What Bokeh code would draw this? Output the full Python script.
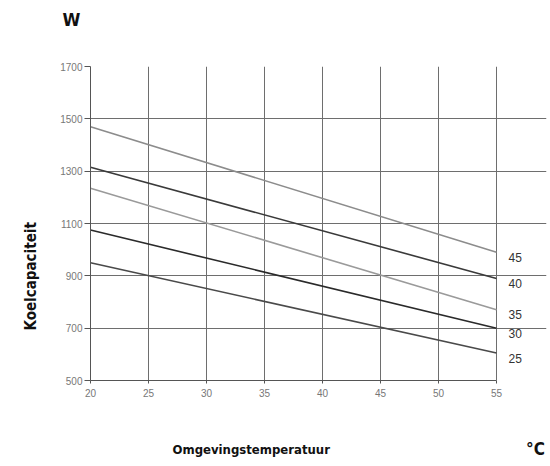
from bokeh.plotting import figure
from bokeh.models import Range1d, FixedTicker, ColumnDataSource, Title
from bokeh.layouts import column
from bokeh.core.properties import value
from bokeh.embed import file_html
from bokeh.resources import INLINE

# Data
x_start = [20, 20, 20, 20, 20]
x_end = [55, 55, 55, 55, 55]
series_names = ["45", "40", "35", "30", "25"]
start_vals = [1470, 1315, 1235, 1075, 950]
end_vals = [990, 890, 770, 700, 605]
series_colors = ["#8c8c8c", "#3a3a3a", "#9a9a9a", "#2a2a2a", "#4a4a4a"]
x_ticks = [20, 25, 30, 35, 40, 45, 50, 55]
y_ticks = [500, 700, 900, 1100, 1300, 1500, 1700]
y_title = "Koelcapaciteit"
y_unit = "W"
x_title = "Omgevingstemperatuur"
x_unit = "°C"

BOLD = "DejaVu Sans Condensed"
W = 548

# top strip carrying the unit of the y axis
ptop = figure(width=W, height=60, output_backend="svg", toolbar_location=None,
              x_range=Range1d(0, 1), y_range=Range1d(0, 1),
              min_border_left=90, min_border_right=2, min_border_top=0, min_border_bottom=0)
ptop.axis.visible = False
ptop.grid.visible = False
ptop.outline_line_color = None
ptop.add_layout(Title(text=y_unit, align="left", offset=-28, standoff=13,
                      text_font=BOLD, text_font_style="bold", text_font_size="18px",
                      text_color="#111111"), "above")

p = figure(width=W, height=340, output_backend="svg", toolbar_location=None,
           x_range=Range1d(20, 59.31), y_range=Range1d(500, 1700),
           min_border_left=90, min_border_right=2, min_border_top=6, min_border_bottom=20)
p.outline_line_color = None

for ax in (p.xaxis[0], p.yaxis[0]):
    ax.axis_line_color = "#555555"
    ax.major_tick_line_color = "#555555"
    ax.minor_tick_line_color = None
    ax.major_label_text_color = "#777777"
    ax.major_label_text_font = "Liberation Sans"
    ax.major_label_text_font_size = "10px"
    ax.major_tick_in = 0
p.xaxis.ticker = FixedTicker(ticks=x_ticks)
p.yaxis.ticker = FixedTicker(ticks=y_ticks)
p.xaxis.bounds = (20, 55)
p.xaxis.major_tick_out = 3
p.yaxis.major_tick_out = 6
p.xaxis.major_label_standoff = 5
p.yaxis.major_label_standoff = 2

p.xgrid.ticker = FixedTicker(ticks=x_ticks)
p.ygrid.ticker = FixedTicker(ticks=y_ticks)
p.ygrid.bounds = (20, 55)
p.grid.grid_line_color = "#6e6e6e"
p.grid.grid_line_width = 1

src = ColumnDataSource(dict(x0=x_start, y0=start_vals, x1=x_end, y1=end_vals,
                            c=series_colors, n=series_names))
p.segment(x0="x0", y0="y0", x1="x1", y1="y1", color="c", line_width=1.6, source=src)
p.text(x="x1", y="y1", text="n", source=src, x_offset=12, y_offset=5,
       text_font=value("Liberation Sans"), text_font_size="12px", text_color="#333333",
       text_align="left", text_baseline="middle")

p.add_layout(Title(text=y_title, align="left", offset=50, standoff=35,
                   text_font=BOLD, text_font_style="bold", text_font_size="15px",
                   text_color="#111111"), "left")

# bottom strip for the x-axis title and unit (its frame is aligned with the main frame)
p2 = figure(width=W, height=60, output_backend="svg", toolbar_location=None,
            x_range=Range1d(90, W - 2), y_range=Range1d(0, 60),
            min_border_left=90, min_border_right=2, min_border_top=0, min_border_bottom=0)
p2.axis.visible = False
p2.grid.visible = False
p2.outline_line_color = None
p2.text(x=[172], y=[11.5], text=[x_title], text_font=value(BOLD), text_font_style="bold",
        text_font_size="13px", text_color="#111111", text_align="left", text_baseline="middle")
p2.text(x=[535], y=[11.5], text=[x_unit], text_font=value(BOLD), text_font_style="bold",
        text_font_size="17px", text_color="#111111", text_align="center", text_baseline="middle")

layout = column(ptop, p, p2, spacing=0)
open("out.html", "w").write(file_html(layout, INLINE))
